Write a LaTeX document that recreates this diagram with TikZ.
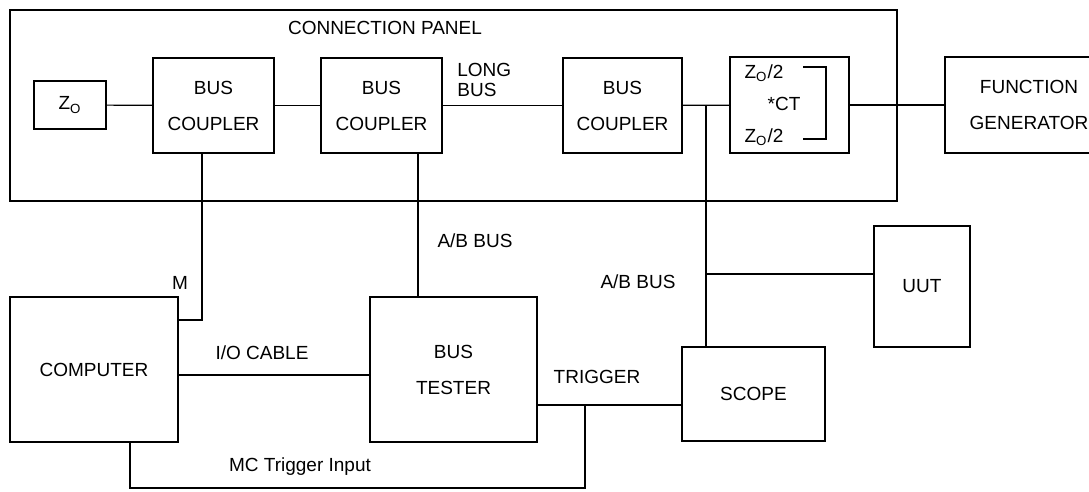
\documentclass[tikz,border=0pt]{standalone}
\usepackage{fontspec}
\setmainfont{Liberation Sans}
\usetikzlibrary{calc}

\tikzset{
  blk/.style={draw, line width=0.6pt, align=center, inner sep=0pt},
  lbl/.style={inner sep=0pt, align=center},
  wire/.style={line width=0.6pt}
}
\newcommand{\Zo}{Z\textsubscript{O}}

\begin{document}
\begin{tikzpicture}[x=0.5pt, y=-0.5pt, font=\fontsize{9.5}{18}\selectfont]

    % Margenes de la figura
    \useasboundingbox (0,0) rectangle (1089,492);

    % Panel de conexiones
    \draw[wire] (10,10) rectangle (897,201);
    \node[lbl] (panel) at (385,28) {CONNECTION PANEL};

    % Bloques del panel
    \node[blk, minimum width=36pt, minimum height=24pt] (zo) at (70,105) {\Zo};
    \node[blk, minimum width=60.5pt, minimum height=47.5pt] (cpl1) at (213.5,105.5) {BUS\\COUPLER};
    \node[blk, minimum width=60.5pt, minimum height=47.5pt] (cpl2) at (381.5,105.5) {BUS\\COUPLER};
    \node[blk, minimum width=59.5pt, minimum height=47.5pt] (cpl3) at (622.5,105.5) {BUS\\COUPLER};
    \node[blk, minimum width=59.5pt, minimum height=48pt] (ct) at (789.5,105) {};
    % el generador queda cortado por el borde derecho
    \node[blk, minimum width=84pt, minimum height=48pt] (fgen) at (1029,105) {FUNCTION\\GENERATOR};

    % Terminacion con toma central
    \node[lbl] (zhi) at (764,73) {\Zo/2};
    \node[lbl] (zlo) at (764,137) {\Zo/2};
    \node[lbl] (ctap) at (784,104) {*CT};
    \draw[wire] (803,67) -- (826,67) -- (826,139) -- (803,139);

    % Equipos
    \node[blk, minimum width=84pt, minimum height=72.5pt] (comp) at (94,369.5) {COMPUTER};
    \node[blk, minimum width=83.5pt, minimum height=72.5pt] (tester) at (453.5,369.5) {BUS\\TESTER};
    \node[blk, minimum width=71.5pt, minimum height=47pt] (scope) at (753.5,394) {SCOPE};
    \node[blk, minimum width=48pt, minimum height=60.5pt] (uut) at (922,286.5) {UUT};

    % Puntos de quiebre
    \coordinate (mbend) at (202,320);
    \coordinate (abx) at (418,200);
    \coordinate (abtap) at (706,105);
    \coordinate (uuttap) at (706,274);
    \coordinate (iocab) at (178,375);
    \coordinate (trig) at (585,405);
    \coordinate (mcbend) at (130,488);

    % Conexiones del bus
    \draw[wire] (zo) -- (cpl1);
    \draw[wire] (cpl1) -- (cpl2);
    \draw[wire] (cpl2) -- (cpl3);
    \draw[wire] (cpl3) -- (ct);
    \draw[wire] (ct) -- (fgen);
    \draw[wire] (abtap) -- (abtap |- scope.north);
    \draw[wire] (uuttap) -- (uuttap -| uut.west);
    \draw[wire] (abx |- cpl2.south) -- (abx |- tester.north);
    \draw[wire] (mbend |- cpl1.south) -- (mbend) -- (mbend -| comp.east);

    % Cables de control
    \draw[wire] (iocab -| comp.east) -- (iocab -| tester.west);
    \draw[wire] (trig -| tester.east) -- (trig -| scope.west);
    \draw[wire] (trig) |- (mcbend) -- (mcbend |- comp.south);

    % Etiquetas
    \node[lbl, align=left, anchor=west] (longbus) at (457,80) {LONG\\[-8pt]BUS};
    \node[lbl] (mlbl) at (180,283) {M};
    \node[lbl] (ablbl) at (475,241) {A/B BUS};
    \node[lbl] (ablbl2) at (638,282) {A/B BUS};
    \node[lbl] (iolbl) at (262,353) {I/O CABLE};
    \node[lbl] (triglbl) at (597,377) {TRIGGER};
    \node[lbl] (mclbl) at (300,467) {MC Trigger Input};
\end{tikzpicture}
\end{document}
